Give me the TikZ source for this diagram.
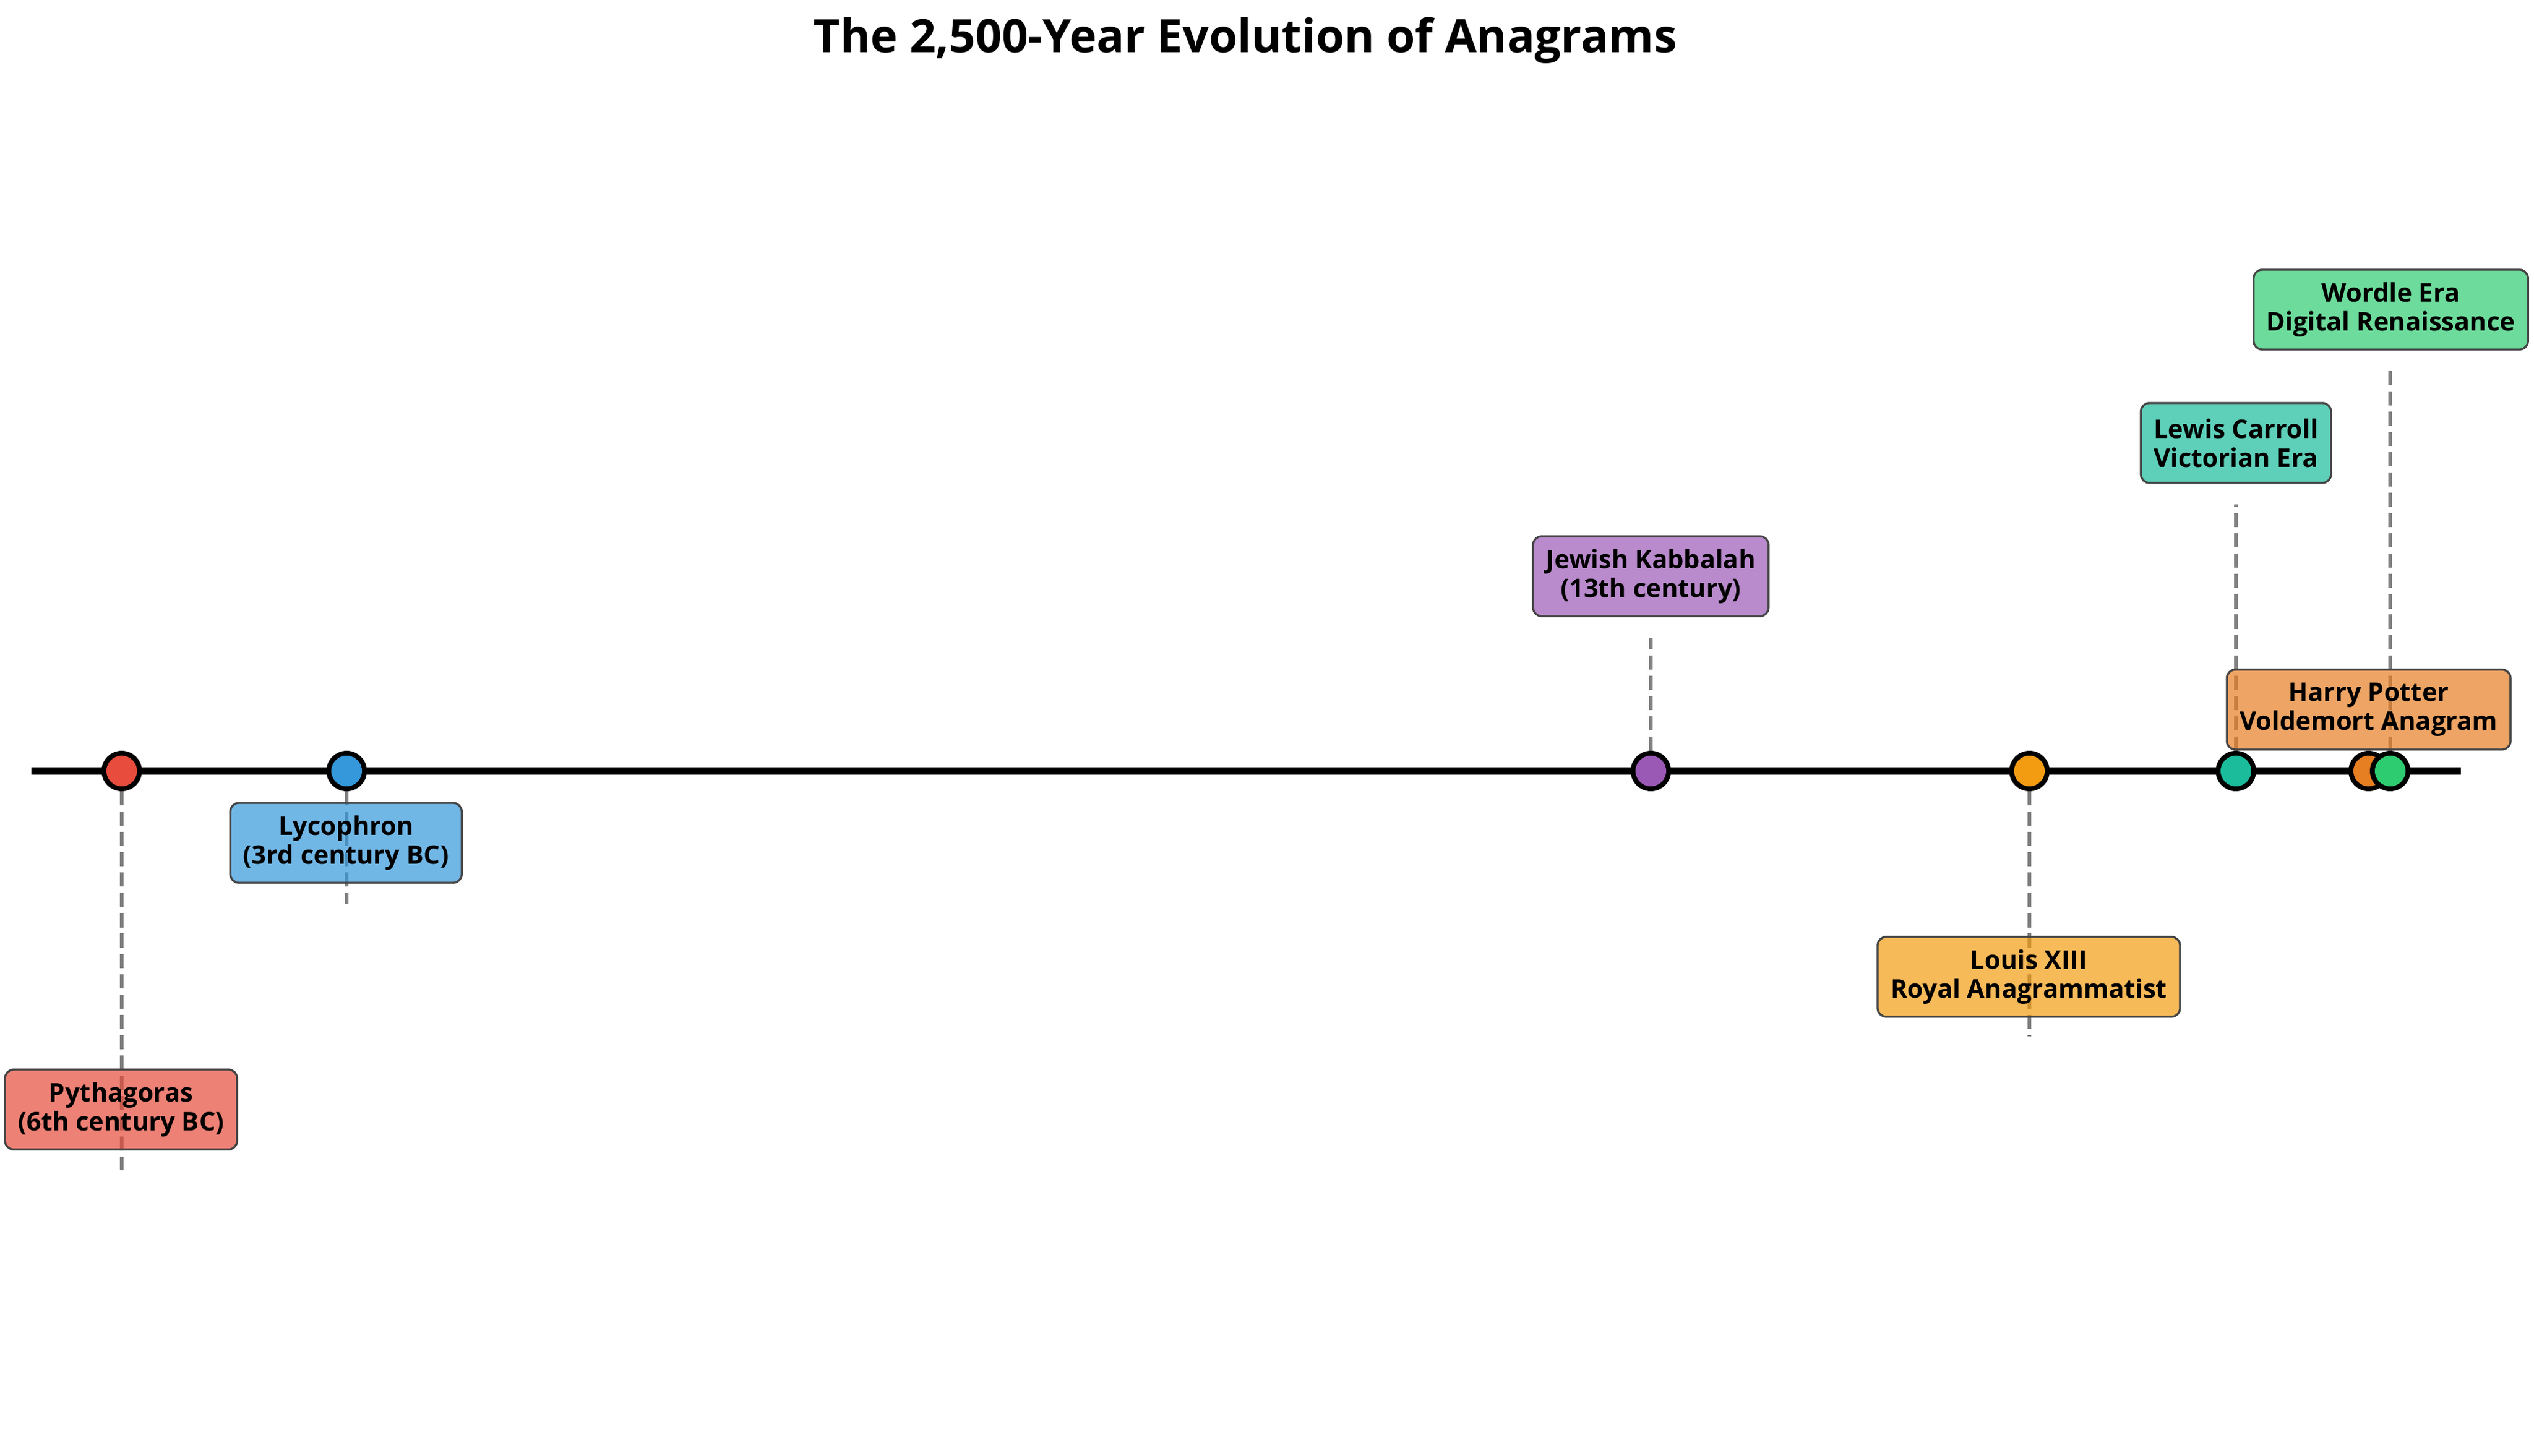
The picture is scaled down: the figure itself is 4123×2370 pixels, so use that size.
\documentclass[tikz,border=0pt]{standalone}
\usepackage{fontspec}
\setmainfont{Open Sans}
\usetikzlibrary{backgrounds}
\definecolor{cpyth}{HTML}{E74C3C}
\definecolor{clyco}{HTML}{3498DB}
\definecolor{ckab}{HTML}{9B59B6}
\definecolor{clouis}{HTML}{F39C12}
\definecolor{clewis}{HTML}{1ABC9C}
\definecolor{charry}{HTML}{E67E22}
\definecolor{cwordle}{HTML}{2ECC71}
\definecolor{cguide}{HTML}{808080}
\definecolor{cedge}{HTML}{454545}
\begin{document}
\begin{tikzpicture}[x=0.01cm,y=-0.01cm,
  lbl/.style={draw=cedge, line width=0.95pt, rounded corners=0.14cm, fill opacity=0.7, text opacity=1, draw opacity=1,
    align=center, inner xsep=0.21cm, inner ysep=0cm, minimum height=1.30cm,
    font=\fontsize{11.86pt}{13.37pt}\selectfont\bfseries},
  dot/.style={circle, draw=black, line width=2.25pt, minimum size=0.58cm, inner sep=0pt},
  guide/.style={draw=cguide, line width=1.6pt, dash pattern=on 6.6pt off 2.8pt},
  axisline/.style={draw=black, line width=3.5pt},
  ttl/.style={font=\fontsize{21.3pt}{25pt}\selectfont\bfseries, anchor=base}]
\useasboundingbox (0,0) rectangle (4123,2370);

% title
\node[ttl] (title) at (2026,86) {The 2,500-Year Evolution of Anagrams};

% timeline ends and guide ends
\coordinate (ts) at (51,1255);
\coordinate (te) at (4004,1255);
\coordinate (e1) at (198,1905);
\coordinate (e2) at (564,1471);
\coordinate (e3) at (2686,1038);
\coordinate (e4) at (3302,1687);
\coordinate (e5) at (3638,821);
\coordinate (e6) at (3854,1253);
\coordinate (e7) at (3889,602);

% label boxes
\node[lbl, fill=cpyth]   (b1) at (197,1806)  {Pythagoras\\(6th century BC)};
\node[lbl, fill=clyco]   (b2) at (563,1372)  {Lycophron\\(3rd century BC)};
\node[lbl, fill=ckab]    (b3) at (2686,938)  {Jewish Kabbalah\\(13th century)};
\node[lbl, fill=clouis]  (b4) at (3301,1590) {Louis XIII\\Royal Anagrammatist};
\node[lbl, fill=clewis]  (b5) at (3638,721)  {Lewis Carroll\\Victorian Era};
\node[lbl, fill=charry]  (b6) at (3854,1155) {Harry Potter\\Voldemort Anagram};
\node[lbl, fill=cwordle] (b7) at (3890,504)  {Wordle Era\\Digital Renaissance};

% event dots
\node[dot, fill=cpyth]   (d1) at (198,1255)  {};
\node[dot, fill=clyco]   (d2) at (564,1255)  {};
\node[dot, fill=ckab]    (d3) at (2686,1255) {};
\node[dot, fill=clouis]  (d4) at (3302,1255) {};
\node[dot, fill=clewis]  (d5) at (3638,1255) {};
\node[dot, fill=charry]  (d6) at (3854,1255) {};
\node[dot, fill=cwordle] (d7) at (3889,1255) {};

\begin{scope}[on background layer]
  \draw[guide] (d1.center) -- (e1);
  \draw[guide] (d2.center) -- (e2);
  \draw[guide] (d3.center) -- (e3);
  \draw[guide] (d4.center) -- (e4);
  \draw[guide] (d5.center) -- (e5);
  \draw[guide] (d6.center) -- (e6);
  \draw[guide] (d7.center) -- (e7);
  \draw[axisline] (ts) -- (te);
\end{scope}
\end{tikzpicture}
\end{document}
